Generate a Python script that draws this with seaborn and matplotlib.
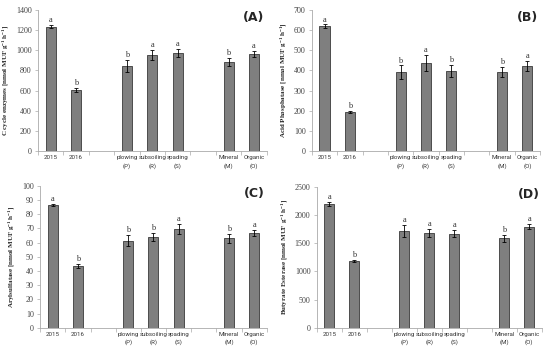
import numpy as np
import pandas as pd
import matplotlib
matplotlib.use("Agg")
import matplotlib.pyplot as plt
import seaborn as sns
from matplotlib.ticker import FixedLocator

sns.set_theme(style="white")
plt.rcParams["mathtext.fontset"] = "custom"
plt.rcParams["mathtext.rm"] = "Liberation Serif:bold"
plt.rcParams["mathtext.bf"] = "Liberation Serif:bold"

# categories (two empty gap slots between the groups)
order = ["2015", "2016", "gap1", "plowing", "subsoiling", "spading", "gap2", "Mineral", "Organic"]
cats = ["2015", "2016", "plowing", "subsoiling", "spading", "Mineral", "Organic"]
tick_labels = ["2015", "2016", "", "plowing\n(P)", "subsoiling\n(R)", "spading\n(S)", "",
               "Mineral\n(M)", "Organic\n(O)"]

# panel values, errors and letters
c_cycle = [1235, 610, 840, 955, 970, 880, 965]
c_cycle_err = [15, 20, 60, 50, 40, 40, 30]
c_cycle_let = ["a", "b", "b", "a", "a", "b", "a"]

acid_p = [620, 195, 390, 435, 397, 392, 422]
acid_p_err = [8, 5, 35, 40, 30, 25, 25]
acid_p_let = ["a", "b", "b", "a", "b", "b", "a"]

aryl = [86.5, 43.5, 61.5, 64, 69.5, 63, 67]
aryl_err = [1, 1.5, 4, 3, 3.5, 3, 2]
aryl_let = ["a", "b", "b", "b", "a", "b", "a"]

butyr = [2200, 1185, 1720, 1685, 1670, 1590, 1795]
butyr_err = [40, 25, 100, 70, 60, 60, 50]
butyr_let = ["a", "b", "a", "a", "a", "b", "a"]

unit = " [nmol MUF g$^{-1}$ h$^{-1}$]"
panels = [
    ("(A)", "C cycle enzymes" + unit, c_cycle, c_cycle_err, c_cycle_let, 1400, 200,
     [0.069, 0.576, 0.416, 0.396]),
    ("(B)", "Acid Phosphatase" + unit, acid_p, acid_p_err, acid_p_let, 700, 100,
     [0.567, 0.576, 0.415, 0.396]),
    ("(C)", "Arylsulfatase" + unit, aryl, aryl_err, aryl_let, 100, 10,
     [0.073, 0.079, 0.412, 0.399]),
    ("(D)", "Butyrate Esterase" + unit, butyr, butyr_err, butyr_let, 2500, 500,
     [0.576, 0.079, 0.409, 0.396]),
]

fig = plt.figure(figsize=(5.5, 3.56), dpi=100)
serif = ["Liberation Serif", "DejaVu Serif"]
narrow = ["Roboto", "DejaVu Sans"]

for tag, ylabel, vals, errs, lets, ymax, step, pos in panels:
    ax = fig.add_axes(pos)
    df = pd.DataFrame({"cat": cats, "val": vals})
    sns.barplot(data=df, x="cat", y="val", order=order, color="#7f7f7f",
                saturation=1, width=0.4, edgecolor="#3a3a3a", linewidth=0.6, ax=ax)
    xs = [order.index(c) for c in cats]
    ax.errorbar(xs, vals, yerr=errs, fmt="none", ecolor="black", elinewidth=0.6,
                capsize=1.2, capthick=0.6)
    for x, v, e, l in zip(xs, vals, errs, lets):
        ax.text(x, v + e + ymax * 0.006, l, ha="center", va="bottom",
                fontsize=6, family=serif, color="#333333")
    ax.set_xlim(-0.5, 8.5)
    ax.set_ylim(0, ymax)
    yt = np.arange(0, ymax + step / 2, step)
    ax.set_yticks(yt)
    ax.set_yticklabels([str(int(t)) for t in yt], family=serif, fontsize=5.8, color="#444444")
    ax.set_xticks(range(9))
    ax.set_xticklabels(tick_labels, fontsize=4.4, color="#333333", family=narrow,
                       linespacing=1.6)
    ax.xaxis.set_minor_locator(FixedLocator(np.arange(-0.5, 9, 1)))
    ax.tick_params(axis="x", which="major", length=0, pad=3)
    ax.tick_params(axis="x", which="minor", length=3, width=0.5, color="#aaaaaa",
                   direction="out", bottom=True)
    ax.tick_params(axis="y", length=2.5, width=0.5, color="#aaaaaa", left=True, pad=2)
    ax.set_xlabel("")
    ax.set_ylabel(ylabel, family=serif, fontweight="bold", fontsize=5, labelpad=3)
    for s in ["top", "right"]:
        ax.spines[s].set_visible(False)
    for s in ["left", "bottom"]:
        ax.spines[s].set_color("#aaaaaa")
        ax.spines[s].set_linewidth(0.6)
    ax.text(0.99, 0.99, tag, transform=ax.transAxes, ha="right", va="top",
            fontsize=9, fontweight="bold", family="DejaVu Sans")

fig.savefig("out.png", dpi=100)
